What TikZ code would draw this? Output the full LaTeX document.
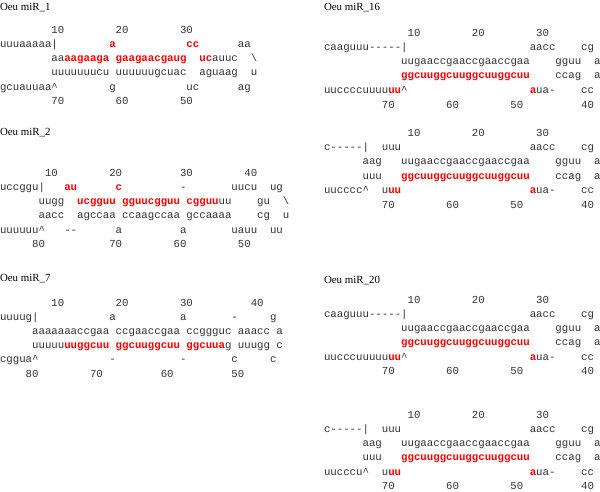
\documentclass[tikz,border=0pt]{standalone}
\usepackage{fontspec}
\newfontfamily\seqfont{Liberation Mono}
\newfontfamily\ttlfont{Liberation Serif}
\newcounter{tn}
\tikzset{
 seq/.style={anchor=base west,inner sep=0pt,outer sep=0pt,font=\seqfont\fontsize{10.72}{12}\selectfont,text=black!80},
 mat/.style={seq,font=\seqfont\bfseries\fontsize{10.72}{12}\selectfont,text=red},
 ttl/.style={anchor=base west,inner sep=0pt,outer sep=0pt,font=\ttlfont\fontsize{10.9}{13}\selectfont,text=black}
}
\newcommand\Sq[4]{\stepcounter{tn}\node[seq] (t\arabic{tn}) at ({#1+#2*6.43},{#3}) {#4};}
\newcommand\Sr[4]{\stepcounter{tn}\node[mat] (t\arabic{tn}) at ({#1+#2*6.43},{#3}) {#4};}
\newcommand\hyp{-\kern0pt}
\newcommand\crt{\textasciicircum}
\newcommand\bsl{\textbackslash}
% right-column blocks: #1 x0, #2 Y (top number row centre), #3 row-4 black text
\newcommand\blkA[3]{%
 \foreach \c/\l in {13/10,23/20,33/30}{\Sq{#1}{\c}{#2+3.4}{\l}}
 \Sq{#1}{0}{#2+17.2}{caaguuu\hyp\hyp\hyp\hyp\hyp|}
 \Sq{#1}{32}{#2+17.2}{aacc}
 \Sq{#1}{40}{#2+17.2}{cg}
 \Sq{#1}{12}{#2+31.5}{uugaaccgaaccgaaccgaa}
 \Sq{#1}{36}{#2+31.5}{gguu}
 \Sq{#1}{42}{#2+31.5}{a}
 \Sr{#1}{12}{#2+45.8}{ggcuuggcuuggcuuggcuu}
 \Sq{#1}{36}{#2+45.8}{ccag}
 \Sq{#1}{42}{#2+45.8}{a}
 \Sq{#1}{0}{#2+60.1}{#3}
 \Sr{#1}{10}{#2+60.1}{uu}
 \Sq{#1}{12}{#2+60.1}{\crt}
 \Sr{#1}{32}{#2+60.1}{a}
 \Sq{#1}{33}{#2+60.1}{ua-}
 \Sq{#1}{40}{#2+60.1}{cc}
 \foreach \c/\l in {9/70,19/60,29/50,40/40}{\Sq{#1}{\c}{#2+74.9}{\l}}
}
\newcommand\blkB[3]{%
 \foreach \c/\l in {13/10,23/20,33/30}{\Sq{#1}{\c}{#2+3.4}{\l}}
 \Sq{#1}{0}{#2+17.2}{c\hyp\hyp\hyp\hyp\hyp|}
 \Sq{#1}{9}{#2+17.2}{uuu}
 \Sq{#1}{32}{#2+17.2}{aacc}
 \Sq{#1}{40}{#2+17.2}{cg}
 \Sq{#1}{6}{#2+31.5}{aag}
 \Sq{#1}{12}{#2+31.5}{uugaaccgaaccgaaccgaa}
 \Sq{#1}{36}{#2+31.5}{gguu}
 \Sq{#1}{42}{#2+31.5}{a}
 \Sq{#1}{6}{#2+45.8}{uuu}
 \Sr{#1}{12}{#2+45.8}{ggcuuggcuuggcuuggcuu}
 \Sq{#1}{36}{#2+45.8}{ccag}
 \Sq{#1}{42}{#2+45.8}{a}
 \Sq{#1}{0}{#2+60.1}{#3\crt}
 \Sq{#1}{9}{#2+60.1}{u}
 \Sr{#1}{10}{#2+60.1}{uu}
 \Sr{#1}{32}{#2+60.1}{a}
 \Sq{#1}{33}{#2+60.1}{ua-}
 \Sq{#1}{40}{#2+60.1}{cc}
 \foreach \c/\l in {9/70,19/60,29/50,40/40}{\Sq{#1}{\c}{#2+74.9}{\l}}
}
\begin{document}
\begin{tikzpicture}[x=1pt,y=-1pt]
\useasboundingbox (0,0) rectangle (600,492);
\fill[white] (0,0) rectangle (600,492);
% ---------- Oeu miR_1 ----------
\node[ttl] (h1) at (0,10.7) {Oeu miR\_1};
\foreach \c/\l in {8/10,18/20,28/30}{\Sq{0}{\c}{33.4}{\l}}
\Sq{0}{0}{47.2}{uuuaaaaa|}
\Sr{0}{17}{47.2}{a}
\Sr{0}{29}{47.2}{cc}
\Sq{0}{37}{47.2}{aa}
\Sq{0}{8}{61.5}{aa}
\Sr{0}{10}{61.5}{aagaaga}
\Sr{0}{18}{61.5}{gaagaacgaug}
\Sr{0}{31}{61.5}{uc}
\Sq{0}{33}{61.5}{auuc}
\Sq{0}{39}{61.5}{\bsl}
\Sq{0}{8}{75.8}{uuuuuuucu}
\Sq{0}{18}{75.8}{uuuuuugcuac}
\Sq{0}{31}{75.8}{aguaag}
\Sq{0}{39}{75.8}{u}
\Sq{0}{0}{90.1}{gcuauuaa\crt}
\Sq{0}{17}{90.1}{g}
\Sq{0}{29}{90.1}{uc}
\Sq{0}{37}{90.1}{ag}
\foreach \c/\l in {8/70,18/60,28/50}{\Sq{0}{\c}{104.9}{\l}}
% ---------- Oeu miR_2 ----------
\node[ttl] (h2) at (0,135.4) {Oeu miR\_2};
\foreach \c/\l in {7/10,17/20,28/30,38/40}{\Sq{0}{\c}{176.4}{\l}}
\Sq{0}{0}{190.2}{uccggu|}
\Sr{0}{10}{190.2}{au}
\Sr{0}{18}{190.2}{c}
\Sq{0}{28}{190.2}{-}
\Sq{0}{36}{190.2}{uucu}
\Sq{0}{42}{190.2}{ug}
\Sq{0}{6}{204.5}{uugg}
\Sr{0}{12}{204.5}{ucgguu}
\Sr{0}{19}{204.5}{gguucgguu}
\Sr{0}{29}{204.5}{cgguu}
\Sq{0}{34}{204.5}{uu}
\Sq{0}{40}{204.5}{gu}
\Sq{0}{44}{204.5}{\bsl}
\Sq{0}{6}{218.8}{aacc}
\Sq{0}{12}{218.8}{agccaa}
\Sq{0}{19}{218.8}{ccaagccaa}
\Sq{0}{29}{218.8}{gccaaaa}
\Sq{0}{40}{218.8}{cg}
\Sq{0}{44}{218.8}{u}
\Sq{0}{0}{233.1}{uuuuuu\crt}
\Sq{0}{10}{233.1}{\hyp-}
\Sq{0}{18}{233.1}{a}
\Sq{0}{28}{233.1}{a}
\Sq{0}{36}{233.1}{uauu}
\Sq{0}{42}{233.1}{uu}
\foreach \c/\l in {5/80,17/70,27/60,37/50}{\Sq{0}{\c}{247.9}{\l}}
% ---------- Oeu miR_7 ----------
\node[ttl] (h3) at (0,281.7) {Oeu miR\_7};
\foreach \c/\l in {8/10,18/20,28/30,39/40}{\Sq{0}{\c}{306.2}{\l}}
\Sq{0}{0}{320.0}{uuuug|}
\Sq{0}{17}{320.0}{a}
\Sq{0}{28}{320.0}{a}
\Sq{0}{36}{320.0}{-}
\Sq{0}{42}{320.0}{g}
\Sq{0}{5}{334.3}{aaaaaaaccgaa}
\Sq{0}{18}{334.3}{ccgaaccgaa}
\Sq{0}{29}{334.3}{ccggguc}
\Sq{0}{37}{334.3}{aaacc}
\Sq{0}{43}{334.3}{a}
\Sq{0}{5}{348.6}{uuuuu}
\Sr{0}{10}{348.6}{uuggcuu}
\Sr{0}{18}{348.6}{ggcuuggcuu}
\Sr{0}{29}{348.6}{ggcuua}
\Sq{0}{35}{348.6}{g}
\Sq{0}{37}{348.6}{uuugg}
\Sq{0}{43}{348.6}{c}
\Sq{0}{0}{362.9}{cggua\crt}
\Sq{0}{17}{362.9}{-}
\Sq{0}{28}{362.9}{-}
\Sq{0}{36}{362.9}{c}
\Sq{0}{42}{362.9}{c}
\foreach \c/\l in {4/80,14/70,25/60,36/50}{\Sq{0}{\c}{377.7}{\l}}
% ---------- Oeu miR_16 ----------
\node[ttl] (h4) at (324,10.5) {Oeu miR\_16};
\blkA{324}{33.2}{uuccccuuuu}
\blkB{324}{133.2}{uucccc}
% ---------- Oeu miR_20 ----------
\node[ttl] (h5) at (324,283) {Oeu miR\_20};
\blkA{324}{300}{uucccuuuuu}
\blkB{324}{415}{uucccu}
\end{tikzpicture}
\end{document}
